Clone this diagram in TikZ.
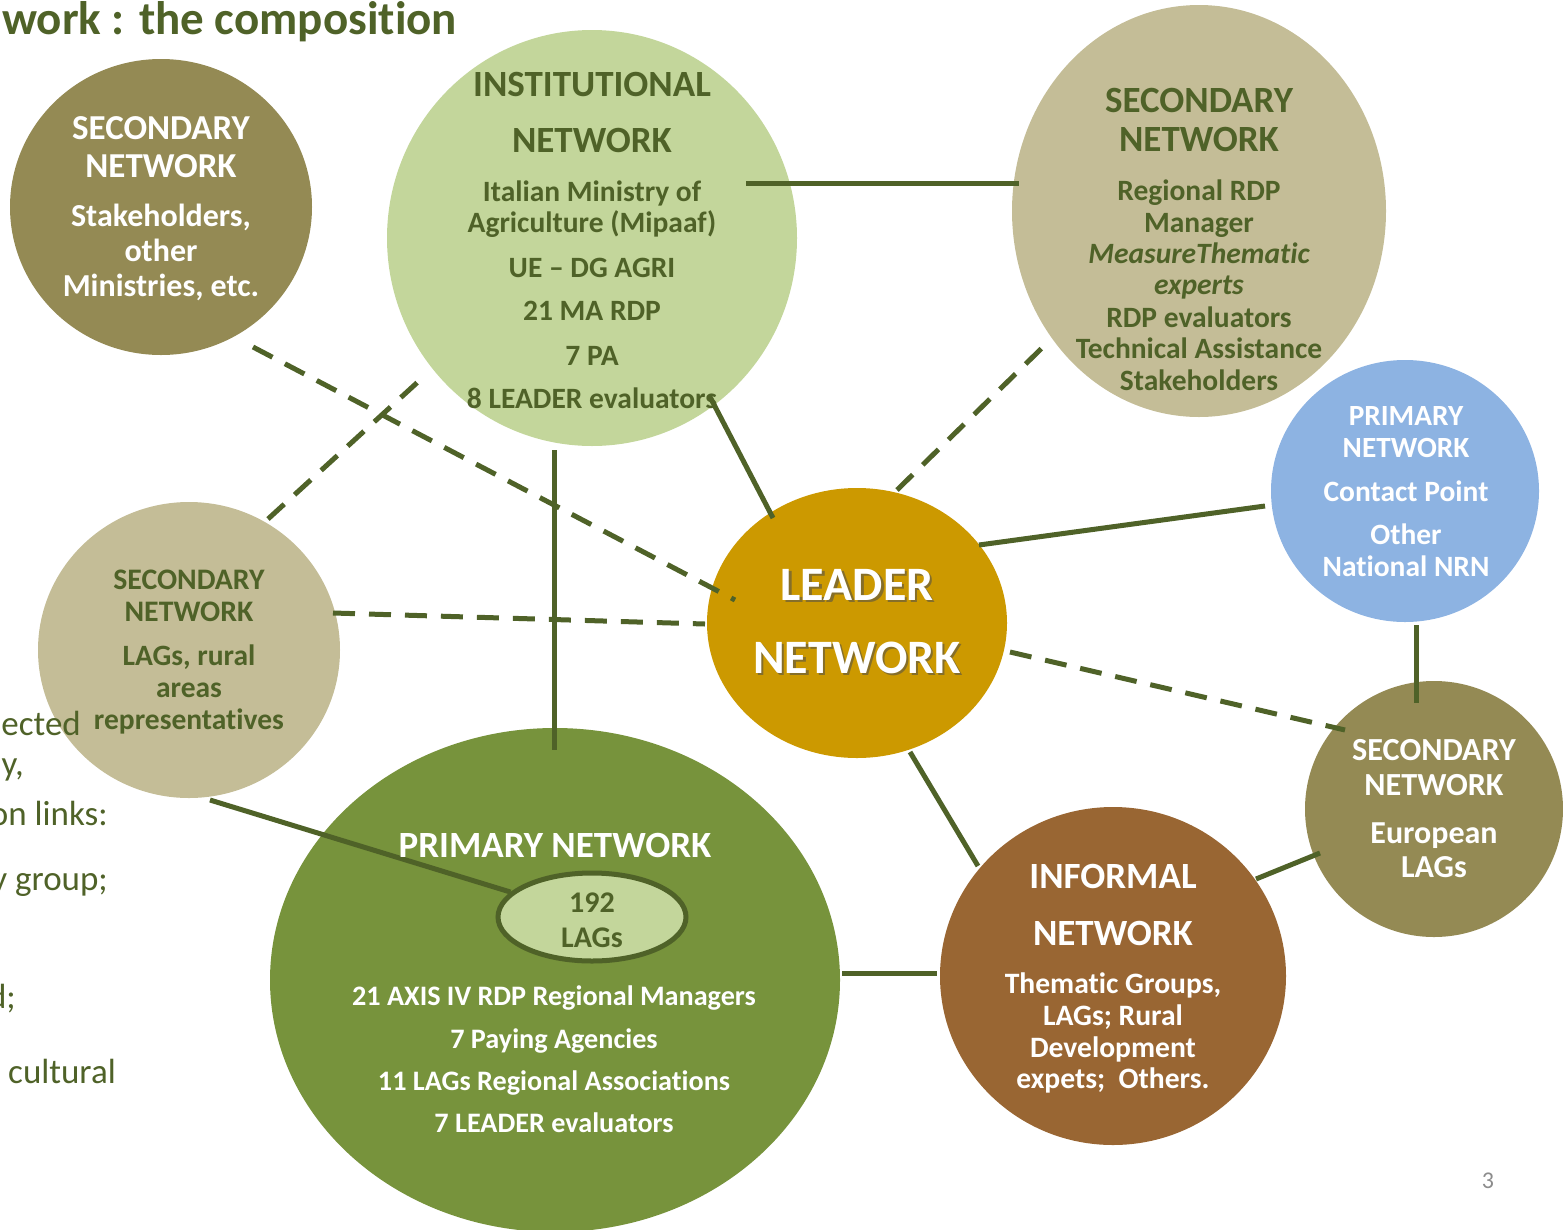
\documentclass[tikz,border=0pt]{standalone}
\usepackage{fontspec}
\setmainfont{Carlito}[Ligatures=NoCommon]
\usetikzlibrary{shapes.geometric}
\definecolor{dkgreen}{HTML}{4F6228}
\definecolor{olivec}{HTML}{948A54}
\definecolor{lgreen}{HTML}{C3D69B}
\definecolor{tanc}{HTML}{C4BD97}
\definecolor{bluec}{HTML}{8DB3E2}
\definecolor{goldc}{HTML}{CC9900}
\definecolor{greenc}{HTML}{77933C}
\definecolor{brownc}{HTML}{996633}
\newcommand\fz[1]{\fontsize{#1}{#1}\selectfont}
\begin{document}
\begin{tikzpicture}[x=1pt,y=-1pt,
  blob/.style={ellipse, inner sep=0pt, draw=none},
  link/.style={draw=dkgreen, line width=5pt},
  dlink/.style={link, dash pattern=on 22pt off 14pt},
  ln/.style={inner sep=0pt, anchor=base},
  hd/.style={ln, font=\bfseries\fz{#1}},
  bd/.style={ln, font=\bfseries\fz{#1}},
  plain/.style={inner sep=0pt, font=\fz{35}, text=dkgreen}]
\useasboundingbox (0,0) rectangle (1563,1229);
\clip (0,0) rectangle (1563,1229);

% title
\node[ln, anchor=base west, font=\bfseries\fz{47}, text=dkgreen] (title) at (2,34) {work : the composition};

% circles
\node[blob, fill=olivec, minimum width=302pt, minimum height=296pt] (sectl) at (161,207) {};
\node[blob, fill=lgreen, minimum width=410pt, minimum height=416pt] (inst) at (592,238) {};
\node[blob, fill=tanc, minimum width=374pt, minimum height=412pt] (sectr) at (1199,211) {};
\node[blob, fill=bluec, minimum width=268pt, minimum height=262pt] (blue) at (1405,491) {};
\node[blob, fill=tanc, minimum width=302pt, minimum height=296pt] (secl) at (189,650) {};
\node[blob, fill=goldc, minimum width=300pt, minimum height=270pt] (leader) at (857,623) {};
\node[blob, fill=olivec, minimum width=258pt, minimum height=256pt] (euro) at (1434,809) {};
\node[blob, fill=greenc, minimum width=570pt, minimum height=504pt] (prim) at (555,980) {};
\node[blob, fill=brownc, minimum width=346pt, minimum height=338pt] (inf) at (1113,976) {};

% background text of the slide (cut at the left edge)
\node[plain, anchor=base east] (bg1) at (81,735) {ected};
\node[plain, anchor=base east] (bg2) at (24,775) {y,};
\node[plain, anchor=base east] (bg3) at (108,825) {on links:};
\node[plain, anchor=base east] (bg4) at (108,890) {ry group;};
\node[plain, anchor=base east] (bg5) at (16,1008) {d;};
\node[plain, anchor=base west] (bg6) at (8,1083) {cultural};
\node[inner sep=0pt, font=\fz{24}, text=black!45] (pg) at (1488,1181) {3};

% connectors
\coordinate (c1a) at (746,183); \coordinate (c1b) at (1019,183);
\coordinate (c2a) at (709,395); \coordinate (c2b) at (773,518);
\coordinate (c3a) at (554,450); \coordinate (c3b) at (554,750);
\coordinate (c4a) at (979,545); \coordinate (c4b) at (1265,506);
\coordinate (c5a) at (1416,625); \coordinate (c5b) at (1416,703);
\coordinate (c6a) at (910,752); \coordinate (c6b) at (978,866);
\coordinate (c7a) at (842,973); \coordinate (c7b) at (937,973);
\coordinate (c8a) at (1256,879); \coordinate (c8b) at (1320,853);
\coordinate (c9a) at (210,800);
\coordinate (d1a) at (253,347); \coordinate (d1b) at (735,600);
\coordinate (d2a) at (268,519); \coordinate (d2b) at (420,380);
\coordinate (d3a) at (897,490); \coordinate (d3b) at (1045,345);
\coordinate (d4a) at (333,613); \coordinate (d4b) at (705,624);
\coordinate (d5a) at (1010,652); \coordinate (d5b) at (1345,730);

\draw[link] (c1a) -- (c1b);
\draw[link] (c2a) -- (c2b);
\draw[link] (c3a) -- (c3b);
\draw[link] (c4a) -- (c4b);
\draw[link] (c5a) -- (c5b);
\draw[link] (c6a) -- (c6b);
\draw[link] (c7a) -- (c7b);
\draw[link] (c8a) -- (c8b);
\draw[dlink] (d1a) -- (d1b);
\draw[dlink] (d2a) -- (d2b);
\draw[dlink] (d3a) -- (d3b);
\draw[dlink] (d4a) -- (d4b);
\draw[dlink] (d5a) -- (d5b);

\node[ellipse, fill=lgreen, draw=dkgreen, line width=5pt, minimum width=188pt, minimum height=88pt, inner sep=0pt] (lags) at (592,917) {};
\draw[link] (c9a) -- (lags);

% texts: top-left secondary
\begin{scope}[text=white]
\node[hd=35] (tl1) at (161,139) {SECONDARY};
\node[hd=35] (tl2) at (161,177) {NETWORK};
\node[bd=32] (tl3) at (161,226) {Stakeholders,};
\node[bd=32] (tl4) at (161,261) {other};
\node[bd=32] (tl5) at (161,296) {Ministries, etc.};
\end{scope}
% institutional
\begin{scope}[text=dkgreen]
\node[hd=37] (in1) at (592,96) {INSTITUTIONAL};
\node[hd=37] (in2) at (592,152) {NETWORK};
\node[bd=29.5] (in3) at (592,201) {Italian Ministry of};
\node[bd=29.5] (in4) at (592,232) {Agriculture (Mipaaf)};
\node[bd=29.5] (in5) at (592,277) {UE – DG AGRI};
\node[bd=29.5] (in6) at (592,320) {21 MA RDP};
\node[bd=29.5] (in7) at (592,365) {7 PA};
\node[bd=29.5] (in8) at (592,408) {8 LEADER evaluators};
\end{scope}
% top-right secondary
\begin{scope}[text=dkgreen]
\node[hd=37] (tr1) at (1199,112) {SECONDARY};
\node[hd=37] (tr2) at (1199,151) {NETWORK};
\node[bd=29.5] (tr3) at (1199,200) {Regional RDP};
\node[bd=29.5] (tr4) at (1199,232) {Manager};
\node[ln, font=\bfseries\itshape\fz{29.5}] (tr5) at (1199,263) {MeasureThematic};
\node[ln, font=\bfseries\itshape\fz{29.5}] (tr6) at (1199,294) {experts};
\node[bd=29.5] (tr7) at (1199,327) {RDP evaluators};
\node[bd=29.5] (tr8) at (1199,358) {Technical Assistance};
\node[bd=29.5] (tr9) at (1199,390) {Stakeholders};
\end{scope}
% blue primary
\begin{scope}[text=white]
\node[hd=29.3] (bl1) at (1406,425) {PRIMARY};
\node[hd=29.3] (bl2) at (1406,457) {NETWORK};
\node[bd=29.5] (bl3) at (1406,501) {Contact Point};
\node[bd=29.5] (bl4) at (1406,544) {Other};
\node[bd=29.5] (bl5) at (1406,576) {National NRN};
\end{scope}
% left secondary
\begin{scope}[text=dkgreen]
\node[hd=29.8] (sl1) at (189,589) {SECONDARY};
\node[hd=29.8] (sl2) at (189,621) {NETWORK};
\node[bd=29.5] (sl3) at (189,665) {LAGs, rural};
\node[bd=29.5] (sl4) at (189,697) {areas};
\node[bd=29.5] (sl5) at (189,729) {representatives};
\end{scope}
% leader
\node[hd=48, text=black!70, opacity=0.55] (ld1s) at (859.5,602.5) {LEADER};
\node[hd=48, text=black!70, opacity=0.55] (ld2s) at (859.5,675.5) {NETWORK};
\node[hd=48, text=white] (ld1) at (857,600) {LEADER};
\node[hd=48, text=white] (ld2) at (857,673) {NETWORK};
% european
\begin{scope}[text=white]
\node[hd=32.2] (eu1) at (1434,760) {SECONDARY};
\node[hd=32.2] (eu2) at (1434,795) {NETWORK};
\node[bd=32] (eu3) at (1434,843) {European};
\node[bd=32] (eu4) at (1434,877) {LAGs};
\end{scope}
% primary network
\begin{scope}[text=white]
\node[hd=37] (pr1) at (555,857) {PRIMARY NETWORK};
\node[bd=28.2] (pr2) at (554,1005) {21 AXIS IV RDP Regional Managers};
\node[bd=28.2] (pr3) at (554,1048) {7 Paying Agencies};
\node[bd=28.2] (pr4) at (554,1090) {11 LAGs Regional Associations};
\node[bd=28.2] (pr5) at (554,1132) {7 LEADER evaluators};
\end{scope}
\node[bd=30, text=dkgreen] (lg1) at (592,912) {192};
\node[bd=30, text=dkgreen] (lg2) at (592,947) {LAGs};
% informal
\begin{scope}[text=white]
\node[hd=37] (if1) at (1113,888) {INFORMAL};
\node[hd=37] (if2) at (1113,945) {NETWORK};
\node[bd=29.6] (if3) at (1113,993) {Thematic Groups,};
\node[bd=29.6] (if4) at (1113,1025) {LAGs; Rural};
\node[bd=29.6] (if5) at (1113,1057) {Development};
\node[bd=29.6] (if6) at (1113,1088) {expets;~~Others.};
\end{scope}
\end{tikzpicture}
\end{document}
